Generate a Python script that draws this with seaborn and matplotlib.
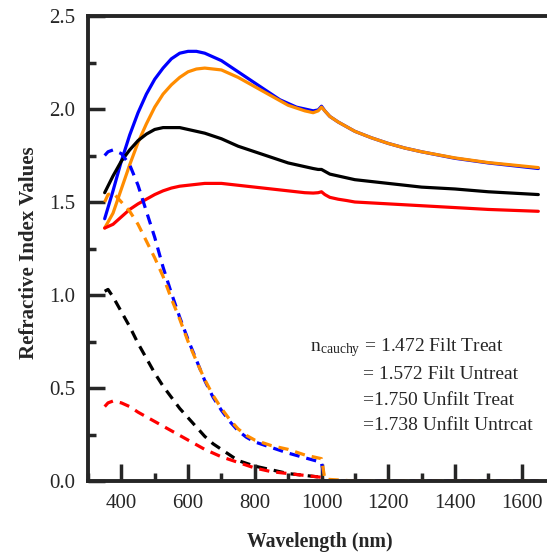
import numpy as np
import pandas as pd
import matplotlib
matplotlib.use("Agg")
import matplotlib.pyplot as plt
import seaborn as sns
from matplotlib.ticker import MultipleLocator

# DATA
wl_solid = [350, 375, 400, 425, 450, 475, 500, 525, 550, 575, 600, 625, 650, 675, 700,
            725, 750, 775, 800, 825, 850, 875, 900, 925, 950, 975, 990, 1000, 1010,
            1025, 1050, 1075, 1100, 1150, 1200, 1250, 1300, 1400, 1500, 1650]
blue_solid = [1.41, 1.56, 1.72, 1.86, 1.98, 2.08, 2.16, 2.22, 2.27, 2.30, 2.31, 2.31, 2.30,
              2.28, 2.26, 2.23, 2.20, 2.17, 2.14, 2.11, 2.08, 2.05, 2.03, 2.01, 2.00, 1.99,
              1.995, 2.015, 1.99, 1.96, 1.93, 1.905, 1.88, 1.845, 1.815, 1.79, 1.77, 1.735,
              1.71, 1.68]
orange_solid = [1.36, 1.44, 1.57, 1.70, 1.82, 1.92, 2.01, 2.08, 2.13, 2.17, 2.20, 2.215, 2.22,
                2.215, 2.21, 2.19, 2.17, 2.145, 2.12, 2.095, 2.07, 2.045, 2.02, 2.005, 1.99,
                1.98, 1.99, 2.01, 1.99, 1.96, 1.93, 1.905, 1.88, 1.845, 1.815, 1.79, 1.77,
                1.737, 1.712, 1.685]
black_solid = [1.55, 1.64, 1.72, 1.78, 1.83, 1.865, 1.89, 1.90, 1.90, 1.90, 1.89, 1.88, 1.87,
               1.855, 1.84, 1.82, 1.80, 1.785, 1.77, 1.755, 1.74, 1.725, 1.71, 1.70, 1.69,
               1.68, 1.675, 1.675, 1.665, 1.65, 1.64, 1.63, 1.62, 1.61, 1.60, 1.59, 1.58,
               1.57, 1.555, 1.54]
red_solid = [1.36, 1.38, 1.42, 1.46, 1.49, 1.515, 1.54, 1.56, 1.575, 1.585, 1.59, 1.595, 1.60,
             1.60, 1.60, 1.595, 1.59, 1.585, 1.58, 1.575, 1.57, 1.565, 1.56, 1.555, 1.55,
             1.548, 1.55, 1.555, 1.54, 1.525, 1.515, 1.508, 1.50, 1.495, 1.49, 1.485, 1.48,
             1.47, 1.46, 1.45]

wl_dash = [350, 360, 375, 400, 425, 450, 475, 500, 525, 550, 575, 600, 625, 650, 675, 700,
           725, 750, 775, 800, 850, 900, 950, 1000, 1010, 1100, 1300, 1500, 1650]
black_dash = [1.02, 1.03, 0.99, 0.91, 0.83, 0.74, 0.66, 0.58, 0.51, 0.45, 0.39, 0.34, 0.29,
              0.24, 0.20, 0.17, 0.14, 0.11, 0.095, 0.08, 0.06, 0.04, 0.03, 0.02, 0.0, 0.0,
              0.0, 0.0, 0.0]
red_dash = [0.40, 0.42, 0.43, 0.42, 0.40, 0.37, 0.345, 0.32, 0.295, 0.27, 0.245, 0.22, 0.195,
            0.17, 0.15, 0.13, 0.115, 0.10, 0.085, 0.07, 0.05, 0.04, 0.03, 0.02, 0.0, 0.0,
            0.0, 0.0, 0.0]
blue_dash = [1.75, 1.77, 1.78, 1.76, 1.70, 1.59, 1.45, 1.31, 1.15, 1.01, 0.88, 0.76, 0.65,
             0.54, 0.45, 0.38, 0.32, 0.27, 0.235, 0.21, 0.18, 0.15, 0.125, 0.10, 0.0, 0.0,
             0.0, 0.0, 0.0]
orange_dash = [1.50, 1.54, 1.55, 1.50, 1.45, 1.38, 1.29, 1.20, 1.10, 0.98, 0.87, 0.75, 0.645,
               0.545, 0.46, 0.39, 0.33, 0.28, 0.245, 0.22, 0.19, 0.17, 0.14, 0.12, 0.01, 0.0,
               0.0, 0.0, 0.0]

cauchy_lines = ["= 1.572 Filt Untreat", "=1.750 Unfilt Treat", "=1.738 Unfilt Untrcat"]

sns.set_style("ticks")
plt.rcParams["font.family"] = ["Liberation Serif", "DejaVu Serif"]
plt.rcParams["mathtext.fontset"] = "stix"

fig = plt.figure(figsize=(5.47, 5.58), dpi=100)
ax = fig.add_axes([88 / 547, 1 - 481 / 558, (555 - 88) / 547, (481 - 16) / 558])

# PLOT solid curves
for y, c in [(blue_solid, "#0000ff"), (orange_solid, "#ff8c00"),
             (black_solid, "black"), (red_solid, "#ff0000")]:
    sns.lineplot(x=wl_solid, y=y, color=c, lw=2.3, ax=ax)

# PLOT dashed curves
for y, c in [(black_dash, "black"), (red_dash, "#ff0000"),
             (blue_dash, "#0000ff"), (orange_dash, "#ff8c00")]:
    sns.lineplot(x=wl_dash, y=y, color=c, lw=2.3, ax=ax)
    ax.lines[-1].set_linestyle((0, (3.2, 2.2)))

ax.set_xlim(300, 1700)
ax.set_ylim(0, 2.5)
ax.xaxis.set_minor_locator(MultipleLocator(100))
ax.yaxis.set_major_locator(MultipleLocator(0.5))
ax.yaxis.set_minor_locator(MultipleLocator(0.25))
ax.set_xticks(range(400, 1700, 200))
ax.tick_params(which="major", direction="in", length=12, width=2.5, labelsize=15, pad=9)
ax.tick_params(which="minor", direction="in", length=6, width=2.5)
ax.tick_params(axis="x", which="both", top=False)
ax.tick_params(axis="y", which="both", right=False)
for s in ax.spines.values():
    s.set_linewidth(2.8)

ax.set_xlabel("Wavelength (nm)", fontsize=14.2, fontweight="bold")
ax.set_ylabel("Refractive Index Values", fontsize=15, fontweight="bold")
ax.xaxis.set_label_coords((320 - 88) / 467, -(532 - 481) / 465)
ax.yaxis.set_label_coords(-(88 - 39) / 467, 0.49)

# ANNOTATION
ax.text(966, 0.715, r"n$_{\mathregular{cauchy}}$ = 1.472 Filt Treat", fontsize=14, va="center")
for i, t in enumerate(cauchy_lines):
    ax.text(1125, 0.57 - i * 0.135, t, fontsize=14, va="center")

plt.savefig("out.png", dpi=100)
